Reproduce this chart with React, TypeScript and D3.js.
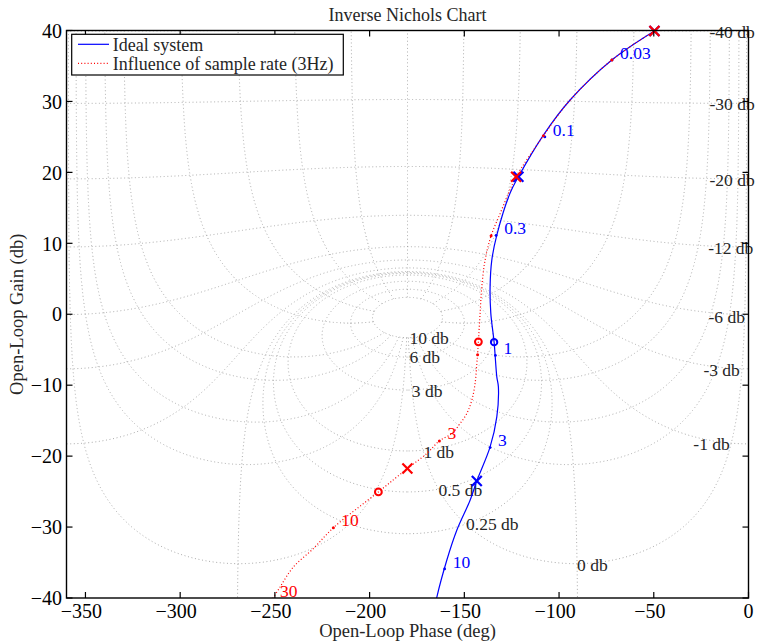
import React, { useMemo } from "react";
import * as d3 from "d3";

const W = 758;
const H = 643;
const PLOT = { left: 66.5, right: 748.5, top: 30.5, bottom: 598 };

const phaseTicks = [-350, -300, -250, -200, -150, -100, -50, 0];
const gainTicks = [-40, -30, -20, -10, 0, 10, 20, 30, 40];

// closed-loop gain contours (dB) and closed-loop phase contours (deg)
const gainContours = [10, 6, 3, 1, 0.5, 0.25, 0, -1, -3, -6, -12, -20, -30, -40];
const phaseContours = [1, 5, 10, 20, 30, 60, 90, 120, 150, 180, -1, -5, -10, -20, -30, -60, -90, -120, -150];
// phase contours start on the innermost gain contour
const phaseContourStartDb = 10;

// grid labels: text, anchor phase (deg), anchor gain (dB)
const gridLabelText = ["-40 db", "-30 db", "-20 db", "-12 db", "-6 db", "-3 db", "-1 db", "0 db", "0.25 db", "0.5 db", "1 db", "3 db", "6 db", "10 db"];
const gridLabelPhase = [-20.6, -20.6, -20.6, -21.3, -21.1, -23.8, -29.1, -90.5, -149.1, -163.7, -171.6, -177.7, -179.0, -179.0];
const gridLabelGain = [39.8, 29.6, 18.9, 9.3, -0.4, -7.9, -18.3, -35.4, -29.6, -24.8, -19.4, -10.8, -6.1, -3.4];

// ideal continuous system response
const idealPhase = [-49.65, -72.14, -94.16, -108.26, -121.46, -125.84, -132.86, -135.5, -136.4, -136.03, -134.29, -132.86, -132.02, -132.86, -136.4, -143.42, -146.96, -153.98, -159.26, -164.54, -165.2];
const idealGain = [39.93, 35.84, 30.2, 25.26, 19.38, 17.08, 11.16, 7.63, 3.86, 0.16, -3.93, -8.83, -10.24, -14.47, -18.7, -23.5, -26.22, -30.45, -34.68, -39.9, -40.8];

// response including the 3 Hz sampling
const sampledPhase = [-49.65, -72.14, -94.16, -108.26, -122.67, -126.7, -131.1, -135.87, -139.04, -140.78, -141.68, -142.58, -143.0, -143.42, -144.32, -146.06, -148.7, -152.24, -156.62, -163.17, -169.82, -180.06, -195.37, -219.13, -229.69, -240.25, -247.28, -251.5];
const sampledGain = [39.93, 35.84, 30.2, 25.16, 19.38, 17.05, 14.2, 11.06, 7.63, 3.86, 0.11, -3.89, -5.7, -6.94, -9.76, -12.12, -13.99, -15.4, -16.81, -17.86, -19.63, -21.75, -25.05, -30.1, -33.03, -35.63, -38.45, -40.23];

// frequency marks (rad/s)
const idealFreqText = ["0.03", "0.1", "0.3", "1", "3", "10"];
const idealFreqPhase = [-72.0, -107.5, -133.2, -133.6, -136.4, -160.4];
const idealFreqGain = [35.84, 25.0, 11.1, -5.8, -18.8, -35.9];

const sampledFreqText = ["0.03", "0.1", "0.3", "1", "3", "10", "30"];
const sampledFreqPhase = [-72.14, -108.26, -135.87, -143.0, -163.17, -219.13, -251.5];
const sampledFreqGain = [35.84, 25.16, 11.06, -5.7, -17.86, -30.1, -40.23];
const sampledFreqLabelled = ["3", "10", "30"];

// pole (x) and zero (o) frequencies on each response
const idealPolePhase = [-49.65, -121.46, -143.42];
const idealPoleGain = [39.93, 19.38, -23.5];
const idealZeroPhase = [-134.29];
const idealZeroGain = [-3.93];
const sampledPolePhase = [-49.65, -122.67, -180.06];
const sampledPoleGain = [39.93, 19.38, -21.75];
const sampledZeroPhase = [-142.58, -195.37];
const sampledZeroGain = [-3.89, -25.05];

const legendItems = ["Ideal system", "Influence of sample rate (3Hz)"];

const FONT = "'Liberation Serif', 'Times New Roman', serif";
const BLUE = "#0000ff";
const RED = "#ff0000";
const GRID = "#a0a0a0";
const TEXT = "#262626";

function toPhaseGain(re: number, im: number): [number, number] {
  let ph = (Math.atan2(im, re) * 180) / Math.PI;
  if (ph > 0) ph -= 360;
  const g = 20 * Math.log10(Math.hypot(re, im));
  return [ph, Math.max(g, -80)];
}

// |1 + h| = R circles around the critical point
function gainContour(mdb: number): [number, number][] {
  const R = Math.pow(10, -mdb / 20);
  const n = 3000;
  const eps = 1e-4;
  const pts: [number, number][] = [];
  for (let i = 0; i <= n; i++) {
    const th = eps + (i / n) * (2 * Math.PI - 2 * eps);
    pts.push(toPhaseGain(-1 + R * Math.cos(th), R * Math.sin(th)));
  }
  return pts;
}

// rays of constant arg(1 + h), from the innermost gain contour outwards
function phaseContour(psiDeg: number): [number, number][] {
  const psi = (psiDeg * Math.PI) / 180;
  const tMin = Math.pow(10, -phaseContourStartDb / 20);
  const u0 = Math.atan(tMin);
  const n = 5000;
  const pts: [number, number][] = [];
  for (let i = 0; i < n; i++) {
    const t = Math.tan(u0 + (i / n) * (Math.PI / 2 - u0));
    const p = toPhaseGain(-1 + t * Math.cos(psi), t * Math.sin(psi));
    pts.push(p);
    if (p[1] > 46) break;
  }
  return pts;
}

function Cross({ x, y, color }: { x: number; y: number; color: string }) {
  const s = 4.2;
  return (
    <g stroke={color} strokeWidth={2.2} strokeLinecap="square">
      <line x1={x - s} y1={y - s} x2={x + s} y2={y + s} />
      <line x1={x - s} y1={y + s} x2={x + s} y2={y - s} />
    </g>
  );
}

export default function App() {
  const x = d3.scaleLinear().domain([-360, 0]).range([PLOT.left, PLOT.right]);
  const y = d3.scaleLinear().domain([-40, 40]).range([PLOT.bottom, PLOT.top]);
  const line = d3
    .line<[number, number]>()
    .x((d) => x(d[0]))
    .y((d) => y(d[1]));
  const smooth = d3
    .line<[number, number]>()
    .x((d) => x(d[0]))
    .y((d) => y(d[1]))
    .curve(d3.curveCatmullRom.alpha(0.5));

  const gridPaths = useMemo(
    () => [
      ...gainContours.map((m) => line(gainContour(m)) || ""),
      ...phaseContours.map((p) => line(phaseContour(p)) || ""),
    ],
    []
  );

  const ideal = idealPhase.map((p, i) => [p, idealGain[i]] as [number, number]);
  const sampled = sampledPhase.map((p, i) => [p, sampledGain[i]] as [number, number]);
  const pw = PLOT.right - PLOT.left;
  const ph = PLOT.bottom - PLOT.top;
  const tick = 6;

  return (
    <svg width={W} height={H} style={{ position: "absolute", left: 0, top: 0, background: "#fff" }} fontFamily={FONT}>
      <defs>
        <clipPath id="plotClip">
          <rect x={PLOT.left} y={PLOT.top} width={pw} height={ph} />
        </clipPath>
      </defs>
      <rect x={0} y={0} width={W} height={H} fill="#fff" />

      {/* Nichols grid */}
      <g clipPath="url(#plotClip)" fill="none" stroke={GRID} strokeWidth={0.9} strokeDasharray="1 2.6">
        {gridPaths.map((d, i) => (
          <path key={i} d={d} />
        ))}
      </g>

      {/* grid labels */}
      <g fontSize={17.5} fill={TEXT}>
        {gridLabelText.map((t, i) => (
          <text key={t} x={x(gridLabelPhase[i])} y={y(gridLabelGain[i])} dy="0.33em">
            {t}
          </text>
        ))}
      </g>

      {/* responses */}
      <g clipPath="url(#plotClip)" fill="none">
        <path d={smooth(ideal) || ""} stroke={BLUE} strokeWidth={1.2} />
        <path d={smooth(sampled) || ""} stroke={RED} strokeWidth={1.2} strokeDasharray="1 2.2" />
      </g>

      {/* frequency marks */}
      <g clipPath="url(#plotClip)">
        {idealFreqPhase.map((p, i) => (
          <circle key={"bf" + i} cx={x(p)} cy={y(idealFreqGain[i])} r={1.4} fill={BLUE} />
        ))}
        {sampledFreqPhase.map((p, i) => (
          <circle key={"rf" + i} cx={x(p)} cy={y(sampledFreqGain[i])} r={1.5} fill={RED} />
        ))}
      </g>
      <g fontSize={17.5}>
        {idealFreqText.map((t, i) => (
          <text key={"bt" + t} x={x(idealFreqPhase[i]) + 8} y={y(idealFreqGain[i]) - 7} dy="0.33em" fill={BLUE}>
            {t}
          </text>
        ))}
        {sampledFreqText.map((t, i) =>
          sampledFreqLabelled.includes(t) ? (
            <text key={"rt" + t} x={x(sampledFreqPhase[i]) + 8} y={y(sampledFreqGain[i]) - 8} dy="0.33em" fill={RED}>
              {t}
            </text>
          ) : null
        )}
      </g>

      {/* poles and zeros */}
      {idealPolePhase.map((p, i) => (
        <Cross key={"bp" + i} x={x(p)} y={y(idealPoleGain[i])} color={BLUE} />
      ))}
      {idealZeroPhase.map((p, i) => (
        <circle key={"bz" + i} cx={x(p)} cy={y(idealZeroGain[i])} r={3.2} fill="none" stroke={BLUE} strokeWidth={2} />
      ))}
      {sampledPolePhase.map((p, i) => (
        <Cross key={"rp" + i} x={x(p)} y={y(sampledPoleGain[i])} color={RED} />
      ))}
      {sampledZeroPhase.map((p, i) => (
        <circle key={"rz" + i} cx={x(p)} cy={y(sampledZeroGain[i])} r={3.4} fill="none" stroke={RED} strokeWidth={2} />
      ))}

      {/* axes box and ticks */}
      <rect x={PLOT.left} y={PLOT.top} width={pw} height={ph} fill="none" stroke="#000" strokeWidth={1.4} />
      <g stroke="#000" strokeWidth={1.2}>
        {phaseTicks.map((t) => (
          <g key={"xt" + t}>
            <line x1={x(t)} x2={x(t)} y1={PLOT.bottom} y2={PLOT.bottom - tick} />
            <line x1={x(t)} x2={x(t)} y1={PLOT.top} y2={PLOT.top + tick} />
          </g>
        ))}
        {gainTicks.map((t) => (
          <g key={"yt" + t}>
            <line x1={PLOT.left} x2={PLOT.left + tick} y1={y(t)} y2={y(t)} />
            <line x1={PLOT.right} x2={PLOT.right - tick} y1={y(t)} y2={y(t)} />
          </g>
        ))}
      </g>
      <g fontSize={20} fill="#000">
        {phaseTicks.map((t) => (
          <text key={"xl" + t} x={x(t) + (t < 0 ? -4 : 0)} y={618} textAnchor="middle">
            {t < 0 ? "\u2212" + Math.abs(t) : String(t)}
          </text>
        ))}
        {gainTicks.map((t) => (
          <text key={"yl" + t} x={62} y={y(t)} dy="0.36em" textAnchor="end">
            {t < 0 ? "\u2212" + Math.abs(t) : String(t)}
          </text>
        ))}
      </g>

      {/* titles */}
      <text x={(PLOT.left + PLOT.right) / 2} y={20.5} textAnchor="middle" fontSize={18} fill={TEXT}>
        Inverse Nichols Chart
      </text>
      <text x={(PLOT.left + PLOT.right) / 2} y={637} textAnchor="middle" fontSize={18.5} fill={TEXT}>
        Open-Loop Phase (deg)
      </text>
      <text transform={`translate(23, ${(PLOT.top + PLOT.bottom) / 2}) rotate(-90)`} textAnchor="middle" fontSize={18.5} fill={TEXT}>
        Open-Loop Gain (db)
      </text>

      {/* legend */}
      <g>
        <rect x={71.7} y={34.3} width={271.6} height={40.7} fill="#fff" stroke="#000" strokeWidth={1.2} />
        <line x1={78} x2={109} y1={44.3} y2={44.3} stroke={BLUE} strokeWidth={1.2} />
        <line x1={78} x2={109} y1={63.3} y2={63.3} stroke={RED} strokeWidth={1.2} strokeDasharray="1 2.2" />
        <text x={112.7} y={44.3} dy="0.35em" fontSize={18} fill={TEXT}>
          {legendItems[0]}
        </text>
        <text x={112.7} y={63.3} dy="0.35em" fontSize={18} fill={TEXT}>
          {legendItems[1]}
        </text>
      </g>
    </svg>
  );
}
